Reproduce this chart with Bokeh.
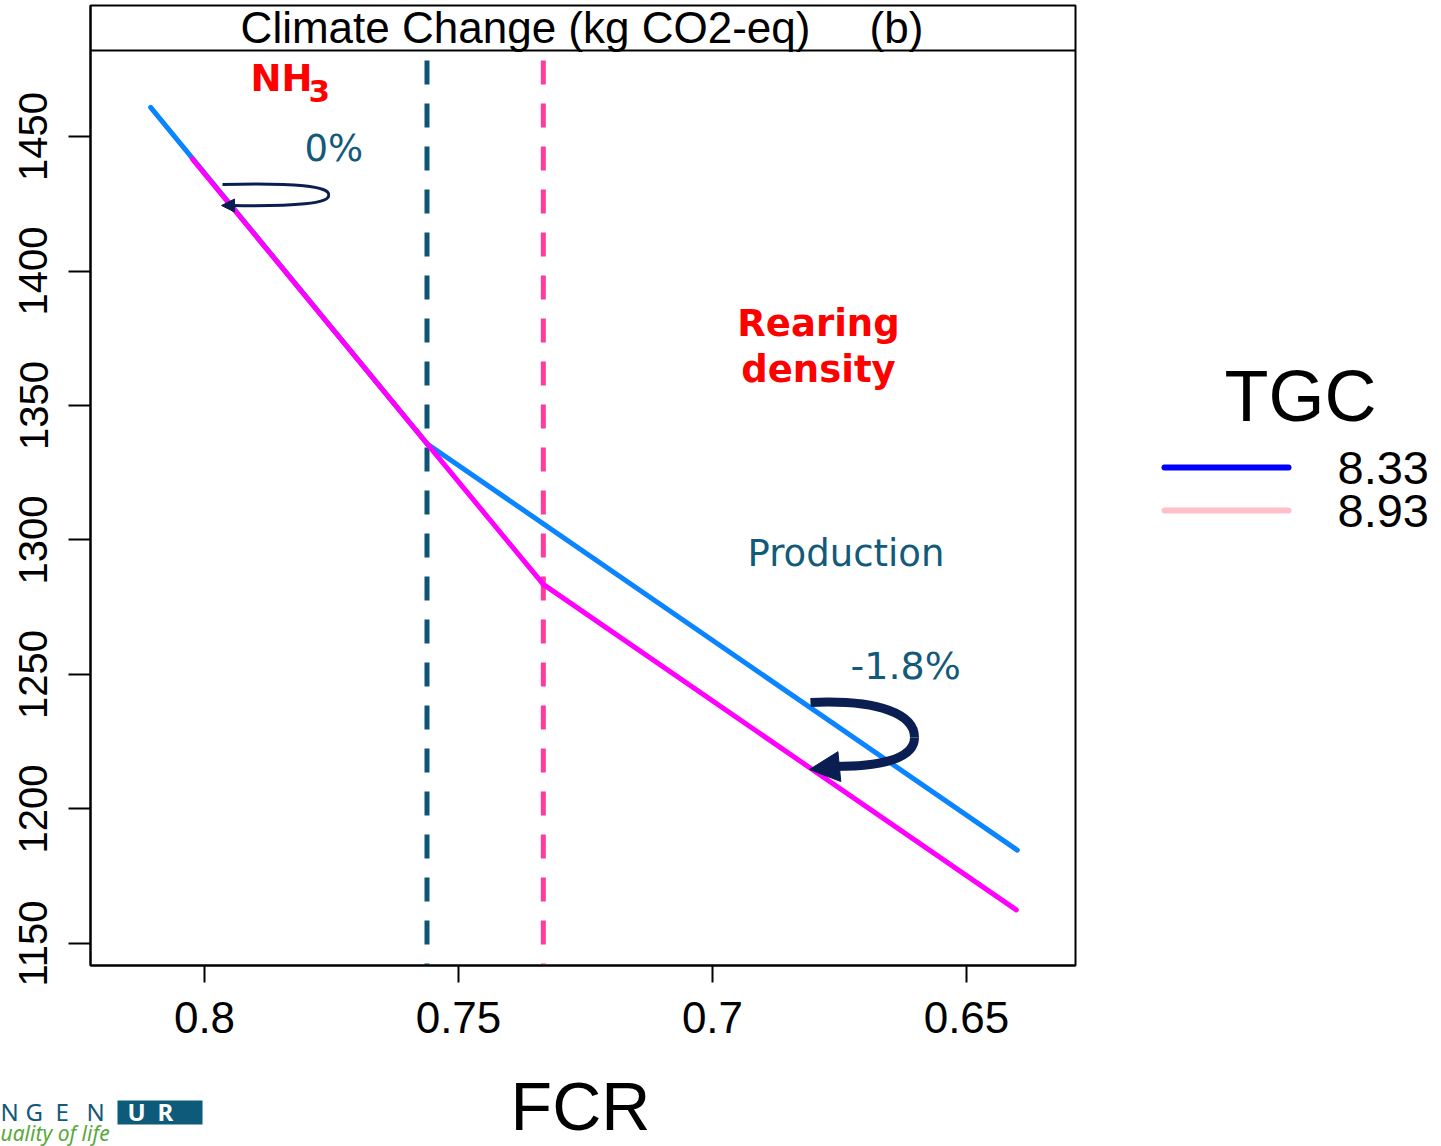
import numpy as np
from bokeh.plotting import figure
from bokeh.layouts import row, column
from bokeh.models import (Range1d, FixedTicker, Span, Label, Arrow, NormalHead,
                          CustomJSTickFormatter)
from bokeh.embed import file_html
from bokeh.resources import INLINE

# ---------------- data ----------------
fcr_tgc833 = [0.8106, 0.7562, 0.6400]
cc_tgc833 = [1460.8, 1335.8, 1184.7]
fcr_tgc893 = [0.8024, 0.7562, 0.7333, 0.6402]
cc_tgc893 = [1441.7, 1335.8, 1283.5, 1162.5]
tgc_labels = ["8.33", "8.93"]
tgc_legend_colors = ["#0000ff", "#ffc0cb"]
fcr_nh3_threshold = 0.7562
fcr_density_threshold = 0.7333
x_ticks = [0.8, 0.75, 0.7, 0.65]
y_ticks = [1150, 1200, 1250, 1300, 1350, 1400, 1450]

# ---------------- geometry ----------------
W, H = 1441, 1146
MAIN_W, MAIN_H = 1077, 1075
STRIP_TOP = 1045          # bottom strip overlaps the empty lower edge of the main canvas
FL, FR, FT, FB = 90, 1075, 5, 965
X_LEFT, X_RIGHT = 0.82244, 0.62854
Y_BOTTOM, Y_TOP = 1141.82, 1498.70
BASE_SHIFT = 0.37  # correction of rendered alphabetic baseline (fraction of font size)


def X(px):
    return X_LEFT + (px - FL) * (X_RIGHT - X_LEFT) / (FR - FL)


def Y(py):
    return Y_TOP - (py - FT) * (Y_TOP - Y_BOTTOM) / (FB - FT)


def ident(v):
    return v


TEAL = "#135a7a"
NAVY = "#0b1e52"


def txt(fig, fx, fy, x, y, s, size, color, bold=False, align="left",
        font="DejaVu Sans", italic=False):
    style = "bold" if bold else ("italic" if italic else "normal")
    fig.add_layout(Label(x=fx(x), y=fy(y - BASE_SHIFT * size), text=s, text_align=align,
                         text_baseline="alphabetic", text_font=font,
                         text_font_size=f"{size}px", text_color=color,
                         text_font_style=style))


def bare(width, height, xr, yr, **kw):
    f = figure(width=width, height=height, x_range=Range1d(*xr), y_range=Range1d(*yr),
               output_backend="svg", toolbar_location=None, min_border=0,
               x_axis_location=None, y_axis_location=None, **kw)
    f.xgrid.visible = False
    f.ygrid.visible = False
    f.outline_line_color = None
    f.background_fill_color = "white"
    f.border_fill_color = "white"
    return f


# ---------------- main plot ----------------
p = figure(width=MAIN_W, height=MAIN_H, x_range=Range1d(X_LEFT, X_RIGHT),
           y_range=Range1d(Y_BOTTOM, Y_TOP), output_backend="svg",
           toolbar_location=None, min_border_left=FL, min_border_right=MAIN_W - FR,
           min_border_top=FT, min_border_bottom=MAIN_H - FB)
p.xgrid.visible = False
p.ygrid.visible = False
p.outline_line_color = "black"
p.outline_line_width = 2
p.background_fill_color = "white"
p.border_fill_color = "white"

fmt = CustomJSTickFormatter(code="return tick.toString();")
p.xaxis.ticker = FixedTicker(ticks=x_ticks)
p.xaxis.formatter = fmt
p.yaxis.ticker = FixedTicker(ticks=y_ticks)
p.yaxis.formatter = fmt
for ax in (p.xaxis[0], p.yaxis[0]):
    ax.axis_line_color = "black"
    ax.axis_line_width = 2
    ax.major_tick_line_color = "black"
    ax.major_tick_line_width = 2
    ax.major_tick_in = 0
    ax.minor_tick_line_color = None
    ax.major_label_text_font = "Liberation Sans"
    ax.major_label_text_color = "black"
p.xaxis.major_tick_out = 17
p.yaxis.major_tick_out = 22
p.xaxis.major_label_text_font_size = "44px"
p.yaxis.major_label_text_font_size = "40px"
p.yaxis.major_label_orientation = "vertical"
p.xaxis.major_label_standoff = 19
p.yaxis.major_label_standoff = 21

# title strip
p.add_layout(Span(location=Y(50), dimension="width", line_color="black", line_width=2))
txt(p, X, Y, 525, 43, "Climate Change (kg CO2-eq)", 44, "black", align="center",
    font="Liberation Sans")
txt(p, X, Y, 896, 43, "(b)", 44, "black", align="center", font="Liberation Sans")

# threshold lines
p.segment(x0=[fcr_nh3_threshold], y0=[Y(60)], x1=[fcr_nh3_threshold], y1=[Y_BOTTOM],
          line_color="#0d5475", line_width=5, line_dash="24 19")
p.segment(x0=[fcr_density_threshold], y0=[Y(60)], x1=[fcr_density_threshold], y1=[Y_BOTTOM],
          line_color="#ff3b9c", line_width=5, line_dash="24 19")

# data lines
p.line(fcr_tgc833, cc_tgc833, line_color="#0a84ff", line_width=5, line_cap="round")
p.line(fcr_tgc893, cc_tgc893, line_color="#ff00ff", line_width=5, line_cap="round")

# annotations
txt(p, X, Y, 250, 92, "NH", 37, "#ff0000", bold=True)
txt(p, X, Y, 308, 102, "3", 31, "#ff0000", bold=True)
txt(p, X, Y, 304, 162, "0%", 37, TEAL)
txt(p, X, Y, 818, 337, "Rearing", 37, "#ff0000", bold=True, align="center")
txt(p, X, Y, 818, 383, "density", 37, "#ff0000", bold=True, align="center")
txt(p, X, Y, 747, 567, "Production", 37, TEAL)
txt(p, X, Y, 850, 680, "-1.8%", 38, TEAL)

# curved arrows
p.bezier(x0=[X(222)], y0=[Y(184)], x1=[X(328)], y1=[Y(194.5)],
         cx0=[X(295)], cy0=[Y(182)], cx1=[X(330)], cy1=[Y(186)],
         line_color=NAVY, line_width=3)
p.bezier(x0=[X(328)], y0=[Y(194.5)], x1=[X(232)], y1=[Y(205)],
         cx0=[X(330)], cy0=[Y(203)], cx1=[X(295)], cy1=[Y(206)],
         line_color=NAVY, line_width=3)
p.add_layout(Arrow(x_start=X(234), y_start=Y(205), x_end=X(221), y_end=Y(205),
                   line_alpha=0,
                   end=NormalHead(size=13, fill_color=NAVY, line_color=NAVY)))

p.bezier(x0=[X(810)], y0=[Y(702)], x1=[X(914)], y1=[Y(737)],
         cx0=[X(880)], cy0=[Y(699)], cx1=[X(914)], cy1=[Y(714)],
         line_color=NAVY, line_width=9)
p.bezier(x0=[X(914)], y0=[Y(737)], x1=[X(834)], y1=[Y(766)],
         cx0=[X(914)], cy0=[Y(760)], cx1=[X(875)], cy1=[Y(766)],
         line_color=NAVY, line_width=9)
p.add_layout(Arrow(x_start=X(840), y_start=Y(766), x_end=X(809), y_end=Y(769),
                   line_alpha=0,
                   end=NormalHead(size=30, fill_color=NAVY, line_color=NAVY)))

# ---------------- legend panel (right); its frame is aligned with the main frame ----------------
lg = bare(W - MAIN_W, MAIN_H, (MAIN_W, W), (FB, FT))
leg_y = [467, 510]
lg.segment(x0=[1164, 1164], y0=leg_y, x1=[1288, 1288], y1=leg_y,
           line_color=tgc_legend_colors, line_width=6, line_cap="round")
for yy, lab in zip(leg_y, tgc_labels):
    txt(lg, ident, ident, 1337, yy + 18, lab, 47, "black", font="Liberation Sans")
txt(lg, ident, ident, 1300, 422, "TGC", 72, "black", align="center", font="Liberation Sans")

# ---------------- bottom strip: axis title and logo fragment ----------------
st = bare(W, H - STRIP_TOP, (0, W), (H, STRIP_TOP),
          margin=(STRIP_TOP - MAIN_H, 0, 0, 0))
st.background_fill_alpha = 0
st.border_fill_alpha = 0
txt(st, ident, ident, 580, 1131, "FCR", 68, "black", align="center", font="Liberation Sans")
st.quad(left=[117], right=[202], top=[1100], bottom=[1124], fill_color="#0e5a7a",
        line_alpha=0)
for lx, ch in zip([0, 25, 55, 86], ["N", "G", "E", "N"]):
    txt(st, ident, ident, lx, 1120, ch, 24, "#14587a", font="Noto Sans")
txt(st, ident, ident, 127, 1120, "U", 24, "white", bold=True, font="Noto Sans")
txt(st, ident, ident, 157, 1120, "R", 24, "white", bold=True, font="Noto Sans")
txt(st, ident, ident, 0, 1140, "uality of life", 21, "#5aa83c", italic=True,
    font="Noto Sans")

layout = column(row(p, lg), st)
open("out.html", "w").write(file_html(layout, INLINE))
